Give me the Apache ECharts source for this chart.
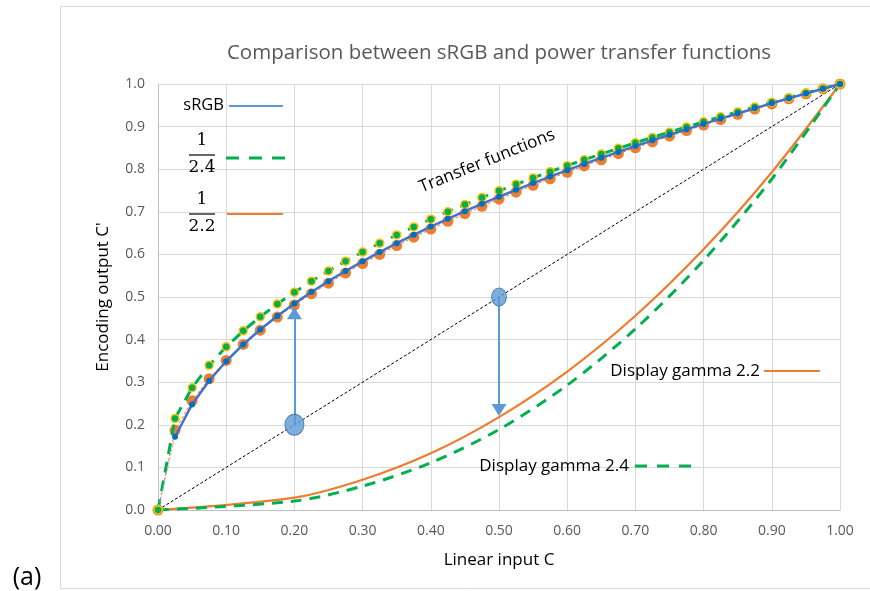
<!DOCTYPE html>
<html>
<head>
<meta charset="utf-8">
<script src="https://cdn.jsdelivr.net/npm/echarts@6/dist/echarts.min.js"></script>
<style>
  html, body { margin: 0; padding: 0; background: #fff; }
  #chart { width: 870px; height: 591px; }
</style>
</head>
<body>
<div id="chart"></div>
<script>
// Linear input samples for the encoding curves (step 0.025)
const inputC = [0, 0.025, 0.05, 0.075, 0.1, 0.125, 0.15, 0.175, 0.2, 0.225, 0.25, 0.275,
  0.3, 0.325, 0.35, 0.375, 0.4, 0.425, 0.45, 0.475, 0.5, 0.525, 0.55, 0.575, 0.6, 0.625,
  0.65, 0.675, 0.7, 0.725, 0.75, 0.775, 0.8, 0.825, 0.85, 0.875, 0.9, 0.925, 0.95, 0.975, 1];

// sRGB encoding output
const srgbOut = [0, 0.1719, 0.2478, 0.3035, 0.3492, 0.3886, 0.4236, 0.4553, 0.4845, 0.5117,
  0.5371, 0.5611, 0.5838, 0.6055, 0.6262, 0.6461, 0.6652, 0.6836, 0.7014, 0.7187, 0.7354,
  0.7516, 0.7674, 0.7827, 0.7977, 0.8124, 0.8267, 0.8406, 0.8543, 0.8677, 0.8808, 0.8937,
  0.9063, 0.9187, 0.9309, 0.9429, 0.9547, 0.9663, 0.9777, 0.9889, 1];

// Power 1/2.4 encoding output
const pow24Out = [0, 0.2150, 0.2870, 0.3398, 0.3831, 0.4205, 0.4536, 0.4837, 0.5114, 0.5371,
  0.5612, 0.5840, 0.6055, 0.6261, 0.6457, 0.6645, 0.6826, 0.7001, 0.7170, 0.7333, 0.7492,
  0.7645, 0.7795, 0.7941, 0.8083, 0.8222, 0.8357, 0.8489, 0.8619, 0.8746, 0.8870, 0.8992,
  0.9112, 0.9230, 0.9345, 0.9459, 0.9571, 0.9680, 0.9789, 0.9895, 1];

// Power 1/2.2 encoding output
const pow22Out = [0, 0.1870, 0.2562, 0.3081, 0.3511, 0.3886, 0.4222, 0.4528, 0.4812, 0.5076,
  0.5325, 0.5561, 0.5786, 0.6000, 0.6206, 0.6403, 0.6594, 0.6778, 0.6956, 0.7129, 0.7297,
  0.7461, 0.7621, 0.7776, 0.7928, 0.8077, 0.8222, 0.8364, 0.8503, 0.8640, 0.8774, 0.8906,
  0.9035, 0.9163, 0.9288, 0.9411, 0.9532, 0.9652, 0.9770, 0.9886, 1];

// Display (decoding) gamma curves
const displayC = [0, 0.2, 0.3, 0.4, 0.5, 0.6, 0.7, 0.8, 0.9, 1];
const gamma22Out = [0, 0.029, 0.071, 0.133, 0.218, 0.325, 0.456, 0.612, 0.793, 1];
const gamma24Out = [0, 0.021, 0.056, 0.111, 0.189, 0.293, 0.425, 0.586, 0.777, 1];

// Identity reference and the two illustrated points with arrow targets
const identityC = [0, 1];
const pointC = [0.2, 0.5];
const arrowTo = [0.462, 0.235];

const BLUE_LINE = '#4472C4', BLUE_DOT = '#0070C0', BLUE_LIGHT = '#5B9BD5';
const GREEN = '#00B050', ORANGE = '#ED7D31', YELLOW = '#FFC000';
const FONT = '"Open Sans", "Noto Sans", sans-serif';
const SERIF = '"DejaVu Serif", serif';

const pairs = (xs, ys) => xs.map((x, i) => [x, ys[i]]);

const chart = echarts.init(document.getElementById('chart'), null, { renderer: 'canvas' });

chart.setOption({
  animation: false,
  backgroundColor: '#ffffff',
  title: {
    text: 'Comparison between sRGB and power transfer functions',
    left: 494, top: 38, textAlign: 'center',
    textStyle: { fontFamily: FONT, fontSize: 20.5, fontWeight: 'normal', color: '#595959' }
  },
  grid: { left: 158, right: 30, top: 84, bottom: 81, containLabel: false },
  xAxis: {
    type: 'value', min: 0, max: 1, interval: 0.1,
    name: 'Linear input C', nameLocation: 'middle', nameGap: 42,
    nameTextStyle: { fontFamily: FONT, fontSize: 17, color: '#000' },
    axisLine: { show: true, lineStyle: { color: '#bfbfbf', width: 1 } },
    axisTick: { show: false },
    axisLabel: { fontFamily: FONT, fontSize: 14, color: '#595959', margin: 14,
      formatter: v => v.toFixed(2) },
    splitLine: { show: true, lineStyle: { color: '#d9d9d9', width: 1 } }
  },
  yAxis: {
    type: 'value', min: 0, max: 1, interval: 0.1,
    name: "Encoding output C'", nameLocation: 'middle', nameGap: 46, nameRotate: 90,
    nameTextStyle: { fontFamily: FONT, fontSize: 17, color: '#000' },
    axisLine: { show: true, lineStyle: { color: '#bfbfbf', width: 1 } },
    axisTick: { show: false },
    axisLabel: { fontFamily: FONT, fontSize: 14, color: '#595959', margin: 13,
      formatter: v => v.toFixed(1) },
    splitLine: { show: true, lineStyle: { color: '#d9d9d9', width: 1 } }
  },
  series: [
    {
      name: 'identity', type: 'line', data: pairs(identityC, identityC),
      symbol: 'none', z: 2,
      lineStyle: { color: '#000', width: 1, type: [3, 2] }
    },
    {
      name: 'Display gamma 2.2', type: 'line', data: pairs(displayC, gamma22Out),
      symbol: 'none', smooth: 0.3, z: 3,
      lineStyle: { color: ORANGE, width: 2.25 }
    },
    {
      name: 'Display gamma 2.4', type: 'line', data: pairs(displayC, gamma24Out),
      symbol: 'none', smooth: 0.3, z: 3,
      lineStyle: { color: GREEN, width: 3, type: [11, 8] }
    },
    {
      name: '1/2.2', type: 'line', data: pairs(inputC, pow22Out),
      symbol: 'circle', symbolSize: 11, z: 4,
      itemStyle: { color: ORANGE, borderWidth: 0 },
      lineStyle: { color: ORANGE, width: 1, type: [3, 2] }
    },
    {
      name: '1/2.4', type: 'line', data: pairs(inputC, pow24Out),
      symbol: 'circle', symbolSize: 8, z: 5,
      itemStyle: { color: GREEN, borderColor: YELLOW, borderWidth: 1.5 },
      lineStyle: { color: GREEN, width: 3, type: [11, 8] }
    },
    {
      name: 'sRGB toe', type: 'line',
      data: pairs(inputC.slice(0, 2), srgbOut.slice(0, 2)),
      symbol: 'none', z: 5,
      lineStyle: { color: '#B4A7D6', width: 1, type: [2, 2] }
    },
    {
      name: 'sRGB', type: 'line',
      data: pairs(inputC.slice(1), srgbOut.slice(1)),
      symbol: 'circle', symbolSize: 6, z: 6,
      itemStyle: { color: BLUE_DOT, borderWidth: 0 },
      lineStyle: { color: BLUE_LINE, width: 2.5 }
    },
    {
      name: 'arrows', type: 'line', data: [], z: 7,
      markLine: {
        silent: true, animation: false,
        symbol: ['none', 'triangle'], symbolSize: [15, 12],
        lineStyle: { color: BLUE_LIGHT, width: 2, type: 'solid' },
        label: { show: false },
        data: pointC.map((c, i) => [
          { coord: [c, c] },
          { coord: [c, arrowTo[i]] }
        ])
      }
    },
    {
      name: 'points', type: 'scatter', z: 8,
      data: [
        { value: [pointC[0], pointC[0]], symbolSize: [19, 21] },
        { value: [pointC[1], pointC[1]], symbolSize: [15, 18] }
      ],
      symbol: 'circle',
      itemStyle: { color: BLUE_LIGHT, borderColor: '#41719C', borderWidth: 1 }
    }
  ],
  graphic: [
    // chart frame
    { type: 'rect', shape: { x: 60.5, y: 6.5, width: 820, height: 582 }, z: -10,
      style: { fill: null, stroke: '#d9d9d9', lineWidth: 1 } },
    { type: 'text', x: 27, y: 578,
      style: { text: '(a)', font: '25px ' + FONT, fill: '#000', align: 'center', verticalAlign: 'middle' } },
    // key: sRGB
    { type: 'text', x: 224, y: 105, z: 20,
      style: { text: 'sRGB', font: '16.5px ' + FONT, fill: '#000', align: 'right', verticalAlign: 'middle' } },
    { type: 'line', shape: { x1: 229, y1: 106, x2: 283, y2: 106 }, z: 20,
      style: { stroke: BLUE_LIGHT, lineWidth: 2 } },
    // key: 1/2.4
    { type: 'text', x: 202, y: 141, z: 20,
      style: { text: '1', font: '17px ' + SERIF, fill: '#000', align: 'center', verticalAlign: 'middle' } },
    { type: 'line', shape: { x1: 189, y1: 155, x2: 215, y2: 155 }, z: 20,
      style: { stroke: '#000', lineWidth: 1.2 } },
    { type: 'text', x: 202, y: 168, z: 20,
      style: { text: '2.4', font: '17px ' + SERIF, fill: '#000', align: 'center', verticalAlign: 'middle' } },
    { type: 'line', shape: { x1: 226, y1: 158, x2: 290, y2: 158 }, z: 20,
      style: { stroke: GREEN, lineWidth: 3, lineDash: [13, 10] } },
    // key: 1/2.2
    { type: 'text', x: 202, y: 200, z: 20,
      style: { text: '1', font: '17px ' + SERIF, fill: '#000', align: 'center', verticalAlign: 'middle' } },
    { type: 'line', shape: { x1: 189, y1: 214, x2: 215, y2: 214 }, z: 20,
      style: { stroke: '#000', lineWidth: 1.2 } },
    { type: 'text', x: 202, y: 227, z: 20,
      style: { text: '2.2', font: '17px ' + SERIF, fill: '#000', align: 'center', verticalAlign: 'middle' } },
    { type: 'line', shape: { x1: 227, y1: 214, x2: 283, y2: 214 }, z: 20,
      style: { stroke: ORANGE, lineWidth: 2 } },
    // curve captions
    { type: 'text', x: 487, y: 161, rotation: 22 * Math.PI / 180, z: 20,
      style: { text: 'Transfer functions', font: '17px ' + FONT, fill: '#000', align: 'center', verticalAlign: 'middle' } },
    { type: 'text', x: 760, y: 371, z: 20,
      style: { text: 'Display gamma 2.2', font: '17px ' + FONT, fill: '#000', align: 'right', verticalAlign: 'middle' } },
    { type: 'line', shape: { x1: 764, y1: 371, x2: 820, y2: 371 }, z: 20,
      style: { stroke: ORANGE, lineWidth: 2 } },
    { type: 'text', x: 629, y: 466, z: 20,
      style: { text: 'Display gamma 2.4', font: '17px ' + FONT, fill: '#000', align: 'right', verticalAlign: 'middle' } },
    { type: 'line', shape: { x1: 635, y1: 466, x2: 698, y2: 466 }, z: 20,
      style: { stroke: GREEN, lineWidth: 3, lineDash: [12, 10] } }
  ]
});
</script>
</body>
</html>
